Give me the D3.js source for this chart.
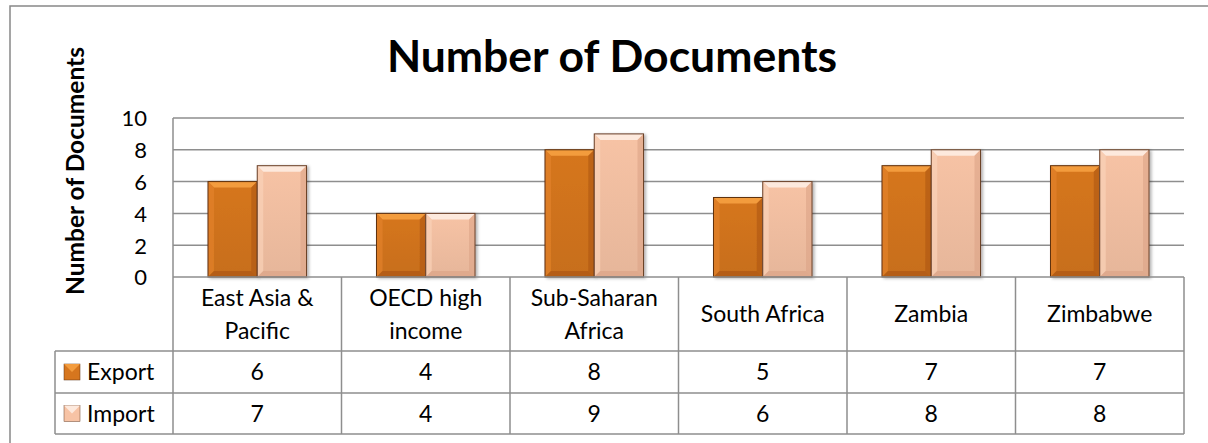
<!DOCTYPE html>
<html>
<head>
<meta charset="utf-8">
<script src="https://cdn.jsdelivr.net/npm/d3@7"></script>
<style>
  body { margin: 0; background: #fff; overflow: hidden; }
  svg { display: block; }
  text { font-family: Lato, "Open Sans", sans-serif; fill: #000; }
</style>
</head>
<body>
<div id="chart"></div>
<script>
'use strict';

const categories = [["East Asia &", "Pacific"], ["OECD high", "income"], ["Sub-Saharan", "Africa"], ["South Africa"], ["Zambia"], ["Zimbabwe"]]
const seriesNames = ["Export", "Import"]
const exportDocs = [6, 4, 8, 5, 7, 7]
const importDocs = [7, 4, 9, 6, 8, 8]
const yTicks = [0, 2, 4, 6, 8, 10]

const seriesValues = [exportDocs, importDocs]
const colors = [
    { main: "#d6761e", light: "#f39c3e", side: "#e2822a", dark: "#ad5610", edge: "#5e3010" },
    { main: "#f7c3a5", light: "#fde9dd", side: "#f9d1b8", dark: "#dca487", edge: "#6a4028" }
]

const W = 1208, H = 443
const plot = { left: 173, right: 1184, top: 118, bottom: 277 }
const tableRows = [277, 351, 393, 434]
const legendLeft = 55
const gridColor = "#8e8e8e"
const fs = "23px"

const svg = d3.select("#chart").append("svg")
    .attr("width", W)
    .attr("height", H)

// chart frame (only top and left edges are inside the picture)
svg.append("path")
    .attr("d", `M10,${H} L10,6 L${W},6`)
    .attr("fill", "none")
    .attr("stroke", "#888").attr("stroke-width", 1.5)

svg.append("text")
    .attr("x", 612).attr("y", 72)
    .attr("text-anchor", "middle")
    .style("font-size", "44.5px").style("font-weight", "bold")
    .text("Number of Documents")

svg.append("text")
    .attr("transform", "translate(84,171) rotate(-90)")
    .attr("text-anchor", "middle")
    .style("font-size", "24.5px").style("font-weight", "bold")
    .text("Number of Documents")

const idx = d3.range(categories.length)
let x0 = d3.scaleBand().domain(idx).range([plot.left, plot.right])
let x1 = d3.scaleBand().domain(d3.range(seriesNames.length))
    .range([0, x0.bandwidth()]).paddingOuter(0.71).paddingInner(0)
let y = d3.scaleLinear().domain([0, 10]).range([plot.bottom, plot.top])

// gridlines
svg.append("g")
    .selectAll("line").data(yTicks.filter(d => d > 0)).join("line")
    .attr("x1", plot.left).attr("x2", plot.right)
    .attr("y1", d => y(d)).attr("y2", d => y(d))
    .attr("stroke", gridColor).attr("stroke-width", 1.5)

let yAxis = svg.append("g")
    .attr("transform", `translate(${plot.left},0)`)
    .call(d3.axisLeft(y).tickValues(yTicks).tickSize(0).tickPadding(26).tickFormat(d => d))
yAxis.select(".domain").remove()
yAxis.selectAll("text")
    .style("font-size", "22px")
    .style("font-family", "Lato, sans-serif")
    .attr("dy", "0.36em")

// bars with a bevel look
const defs = svg.append("defs")
defs.append("filter").attr("id", "shadow")
    .attr("x", "-20%").attr("y", "-10%").attr("width", "150%").attr("height", "130%")
    .append("feDropShadow")
    .attr("dx", 2).attr("dy", 1).attr("stdDeviation", 1.5)
    .attr("flood-color", "#000").attr("flood-opacity", 0.3)

seriesNames.forEach((s, si) => {
    const g = defs.append("linearGradient").attr("id", "grad" + si)
        .attr("x1", 0).attr("x2", 0).attr("y1", 0).attr("y2", 1)
    g.append("stop").attr("offset", "0%").attr("stop-color", colors[si].main)
    g.append("stop").attr("offset", "100%").attr("stop-color", d3.color(colors[si].main).darker(0.2))
})

const b = 6
seriesNames.forEach((s, si) => {
    const c = colors[si]
    const bars = svg.append("g").selectAll("g")
        .data(seriesValues[si]).join("g")
        .attr("filter", "url(#shadow)")
    bars.each(function (v, i) {
        const gx = x0(i) + x1(si), w = x1.bandwidth()
        const yt = y(v), yb = y(0)
        const sel = d3.select(this)
        sel.append("rect")
            .attr("x", gx).attr("y", yt).attr("width", w).attr("height", yb - yt)
            .attr("fill", `url(#grad${si})`)
        sel.append("polygon")
            .attr("points", [[gx, yt], [gx + w, yt], [gx + w - b, yt + b], [gx + b, yt + b]].join(" "))
            .attr("fill", c.light)
        sel.append("polygon")
            .attr("points", [[gx, yt], [gx + b, yt + b], [gx + b, yb - b], [gx, yb]].join(" "))
            .attr("fill", c.side).attr("opacity", 0.7)
        sel.append("polygon")
            .attr("points", [[gx + w, yt], [gx + w - b, yt + b], [gx + w - b, yb - b], [gx + w, yb]].join(" "))
            .attr("fill", c.dark).attr("opacity", 0.6)
        sel.append("polygon")
            .attr("points", [[gx, yb], [gx + b, yb - b], [gx + w - b, yb - b], [gx + w, yb]].join(" "))
            .attr("fill", c.dark).attr("opacity", 0.7)
        sel.append("rect")
            .attr("x", gx).attr("y", yt).attr("width", w).attr("height", yb - yt)
            .attr("fill", "none").attr("stroke", c.edge).attr("stroke-width", 1)
    })
})

// data table
const tbl = svg.append("g").attr("stroke", gridColor).attr("stroke-width", 1.5)
tbl.append("line").attr("x1", plot.left).attr("x2", plot.left)
    .attr("y1", plot.top).attr("y2", tableRows[3])
tbl.append("line").attr("x1", legendLeft).attr("x2", legendLeft)
    .attr("y1", tableRows[1]).attr("y2", tableRows[3])
tbl.selectAll(".vl").data(idx).join("line")
    .attr("x1", i => x0(i) + x0.bandwidth()).attr("x2", i => x0(i) + x0.bandwidth())
    .attr("y1", tableRows[0]).attr("y2", tableRows[3])
tbl.selectAll(".hl").data(tableRows).join("line")
    .attr("x1", (d, i) => i === 0 ? plot.left : legendLeft).attr("x2", plot.right)
    .attr("y1", d => d).attr("y2", d => d)

// category header
idx.forEach(i => {
    const lines = categories[i]
    const cx = x0(i) + x0.bandwidth() / 2
    const mid = (tableRows[0] + tableRows[1]) / 2
    lines.forEach((t, li) => {
        svg.append("text")
            .attr("x", cx)
            .attr("y", mid + (li - (lines.length - 1) / 2) * 33 + 8)
            .attr("text-anchor", "middle")
            .style("font-size", fs)
            .text(t)
    })
})

// value rows with legend keys
seriesNames.forEach((s, si) => {
    const top = tableRows[si + 1], bot = tableRows[si + 2]
    const mid = (top + bot) / 2
    const c = colors[si]
    const kx = 64, ks = 16, ky = mid - 8
    svg.append("rect").attr("x", kx).attr("y", ky).attr("width", ks).attr("height", ks)
        .attr("fill", c.main).attr("stroke", c.edge).attr("stroke-width", 0.5)
    svg.append("polygon")
        .attr("points", [[kx, ky], [kx + ks, ky], [kx + ks / 2, ky + ks / 2]].join(" "))
        .attr("fill", c.light)
    svg.append("text").attr("x", 87).attr("y", mid + 8)
        .style("font-size", fs).text(s)
    seriesValues[si].forEach((v, i) => {
        svg.append("text")
            .attr("x", x0(i) + x0.bandwidth() / 2).attr("y", mid + 8)
            .attr("text-anchor", "middle")
            .style("font-size", fs)
            .text(v)
    })
})
</script>
</body>
</html>
